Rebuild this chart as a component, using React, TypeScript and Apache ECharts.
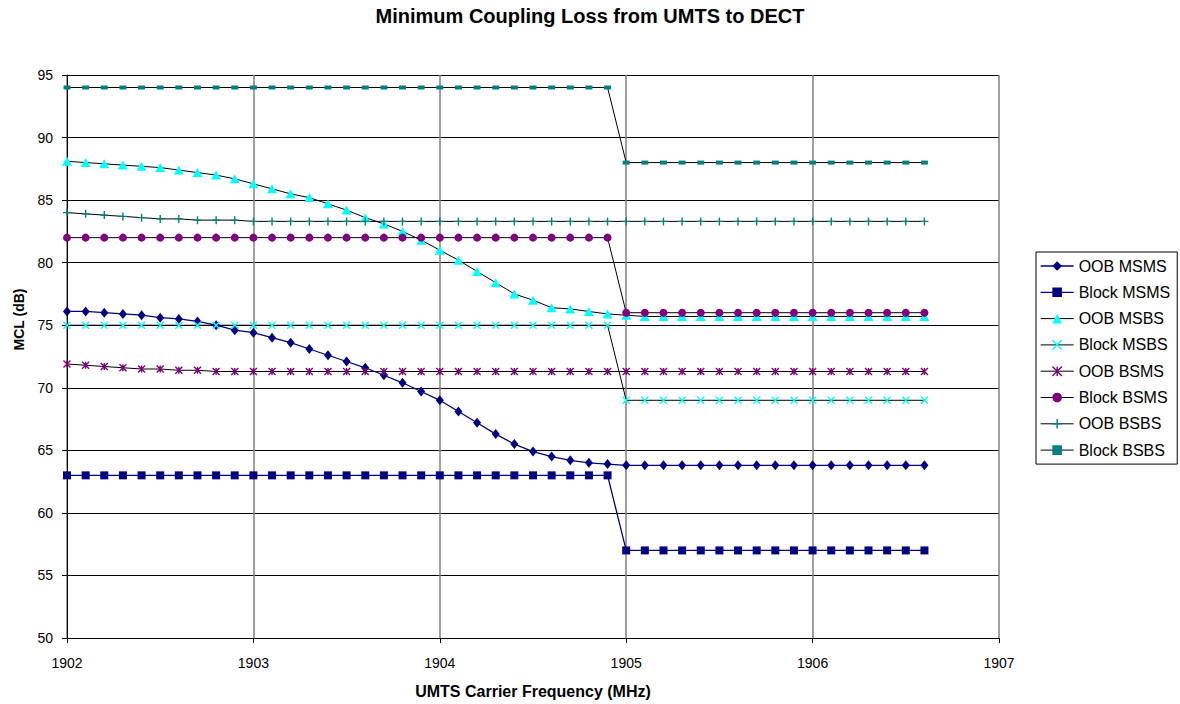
import React, { useEffect, useRef } from "react";
import * as echarts from "echarts";

const titleText = "Minimum Coupling Loss from UMTS to DECT";
const xName = "UMTS Carrier Frequency (MHz)";
const yName = "MCL (dB)";

const freqs = [
  1902.0, 1902.1, 1902.2, 1902.3, 1902.4, 1902.5, 1902.6, 1902.7, 1902.8, 1902.9,
  1903.0, 1903.1, 1903.2, 1903.3, 1903.4, 1903.5, 1903.6, 1903.7, 1903.8, 1903.9,
  1904.0, 1904.1, 1904.2, 1904.3, 1904.4, 1904.5, 1904.6, 1904.7, 1904.8, 1904.9,
  1905.0, 1905.1, 1905.2, 1905.3, 1905.4, 1905.5, 1905.6, 1905.7, 1905.8, 1905.9,
  1906.0, 1906.1, 1906.2, 1906.3, 1906.4, 1906.5, 1906.6,
];

const oobMsms = [
  76.1, 76.1, 76.0, 75.9, 75.8, 75.6, 75.5, 75.3, 75.0, 74.6,
  74.4, 74.0, 73.6, 73.1, 72.6, 72.1, 71.6, 71.0, 70.4, 69.7,
  69.0, 68.1, 67.2, 66.3, 65.5, 64.9, 64.5, 64.2, 64.0, 63.9,
  63.8, 63.8, 63.8, 63.8, 63.8, 63.8, 63.8, 63.8, 63.8, 63.8,
  63.8, 63.8, 63.8, 63.8, 63.8, 63.8, 63.8,
];

const blockMsms = [
  63, 63, 63, 63, 63, 63, 63, 63, 63, 63,
  63, 63, 63, 63, 63, 63, 63, 63, 63, 63,
  63, 63, 63, 63, 63, 63, 63, 63, 63, 63,
  57, 57, 57, 57, 57, 57, 57, 57, 57, 57,
  57, 57, 57, 57, 57, 57, 57,
];

const oobMsbs = [
  88.1, 88.0, 87.9, 87.8, 87.7, 87.6, 87.4, 87.2, 87.0, 86.7,
  86.3, 85.9, 85.5, 85.2, 84.7, 84.2, 83.6, 83.1, 82.5, 81.8,
  81.0, 80.2, 79.3, 78.4, 77.5, 77.0, 76.4, 76.3, 76.1, 75.9,
  75.8, 75.7, 75.7, 75.7, 75.7, 75.7, 75.7, 75.7, 75.7, 75.7,
  75.7, 75.7, 75.7, 75.7, 75.7, 75.7, 75.7,
];

const blockMsbs = [
  75, 75, 75, 75, 75, 75, 75, 75, 75, 75,
  75, 75, 75, 75, 75, 75, 75, 75, 75, 75,
  75, 75, 75, 75, 75, 75, 75, 75, 75, 75,
  69, 69, 69, 69, 69, 69, 69, 69, 69, 69,
  69, 69, 69, 69, 69, 69, 69,
];

const oobBsms = [
  71.9, 71.8, 71.7, 71.6, 71.5, 71.5, 71.4, 71.4, 71.3, 71.3,
  71.3, 71.3, 71.3, 71.3, 71.3, 71.3, 71.3, 71.3, 71.3, 71.3,
  71.3, 71.3, 71.3, 71.3, 71.3, 71.3, 71.3, 71.3, 71.3, 71.3,
  71.3, 71.3, 71.3, 71.3, 71.3, 71.3, 71.3, 71.3, 71.3, 71.3,
  71.3, 71.3, 71.3, 71.3, 71.3, 71.3, 71.3,
];

const blockBsms = [
  82, 82, 82, 82, 82, 82, 82, 82, 82, 82,
  82, 82, 82, 82, 82, 82, 82, 82, 82, 82,
  82, 82, 82, 82, 82, 82, 82, 82, 82, 82,
  76, 76, 76, 76, 76, 76, 76, 76, 76, 76,
  76, 76, 76, 76, 76, 76, 76,
];

const oobBsbs = [
  84.0, 83.9, 83.8, 83.7, 83.6, 83.5, 83.5, 83.4, 83.4, 83.4,
  83.3, 83.3, 83.3, 83.3, 83.3, 83.3, 83.3, 83.3, 83.3, 83.3,
  83.3, 83.3, 83.3, 83.3, 83.3, 83.3, 83.3, 83.3, 83.3, 83.3,
  83.3, 83.3, 83.3, 83.3, 83.3, 83.3, 83.3, 83.3, 83.3, 83.3,
  83.3, 83.3, 83.3, 83.3, 83.3, 83.3, 83.3,
];

const blockBsbs = [
  94, 94, 94, 94, 94, 94, 94, 94, 94, 94,
  94, 94, 94, 94, 94, 94, 94, 94, 94, 94,
  94, 94, 94, 94, 94, 94, 94, 94, 94, 94,
  88, 88, 88, 88, 88, 88, 88, 88, 88, 88,
  88, 88, 88, 88, 88, 88, 88,
];

const NAVY = "#000080";
const CYAN = "#00FFFF";
const PURPLE = "#800080";
const TEAL = "#008080";

const CROSS = "path://M0,0L10,10M10,0L0,10";
const STAR = "path://M0,0L10,10M10,0L0,10M5,0L5,10";
const PLUS = "path://M0,5L10,5M5,0L5,10";

type Def = {
  name: string;
  values: number[];
  line: string;
  lineWidth: number;
  symbol: string;
  size: number | number[];
  color: string;
  stroke?: boolean;
};

const defs: Def[] = [
  { name: "OOB MSMS", values: oobMsms, line: NAVY, lineWidth: 1.3, symbol: "diamond", size: [8, 10], color: NAVY },
  { name: "Block MSMS", values: blockMsms, line: NAVY, lineWidth: 1.3, symbol: "rect", size: 8, color: NAVY },
  { name: "OOB MSBS", values: oobMsbs, line: "#000", lineWidth: 1, symbol: "triangle", size: [10, 9], color: CYAN },
  { name: "Block MSBS", values: blockMsbs, line: "#000", lineWidth: 1, symbol: CROSS, size: 7, color: CYAN, stroke: true },
  { name: "OOB BSMS", values: oobBsms, line: "#000", lineWidth: 1, symbol: STAR, size: 7, color: PURPLE, stroke: true },
  { name: "Block BSMS", values: blockBsms, line: "#000", lineWidth: 1, symbol: "circle", size: 8, color: PURPLE },
  { name: "OOB BSBS", values: oobBsbs, line: "#000", lineWidth: 1, symbol: PLUS, size: 8, color: TEAL, stroke: true },
  { name: "Block BSBS", values: blockBsbs, line: "#000", lineWidth: 1, symbol: "rect", size: [7, 4], color: TEAL },
];

const itemStyleOf = (d: Def) =>
  d.stroke
    ? { color: d.color, borderColor: d.color, borderWidth: 1.4 }
    : { color: d.color, borderWidth: 0 };

export default function App() {
  const ref = useRef<HTMLDivElement>(null);

  useEffect(() => {
    if (!ref.current) return;
    const chart = echarts.init(ref.current, null, { renderer: "svg" });
    const font = "Arial, 'Liberation Sans', sans-serif";

    const series = defs.map((d) => ({
      name: d.name,
      type: "line",
      data: freqs.map((f, i) => [f, d.values[i]]),
      symbol: d.symbol,
      symbolSize: d.size,
      showSymbol: true,
      lineStyle: { color: d.line, width: d.lineWidth },
      itemStyle: itemStyleOf(d),
      emphasis: { disabled: true },
      z: 2,
    }));

    chart.setOption({
      animation: false,
      backgroundColor: "#fff",
      title: {
        text: titleText,
        left: "center",
        top: 1,
        textStyle: { fontFamily: font, fontSize: 20, fontWeight: "bold", color: "#000" },
      },
      grid: { left: 67, right: 181, top: 75, bottom: 66 },
      legend: {
        orient: "vertical",
        left: 1036,
        top: 252,
        padding: [6, 7, 6, 4],
        itemWidth: 33,
        itemHeight: 12,
        itemGap: 10.3,
        borderColor: "#000",
        borderWidth: 1,
        textStyle: { fontFamily: font, fontSize: 16, color: "#000" },
        data: defs.map((d) => ({
          name: d.name,
          itemStyle: itemStyleOf(d),
          lineStyle: { color: d.line, width: d.lineWidth },
        })),
      },
      xAxis: {
        type: "value",
        min: 1902,
        max: 1907,
        interval: 1,
        name: xName,
        nameLocation: "middle",
        nameGap: 45,
        nameTextStyle: { fontFamily: font, fontSize: 16, fontWeight: "bold", color: "#000" },
        axisLine: { show: true, lineStyle: { color: "#000", width: 1 } },
        axisTick: { show: true, length: 5, lineStyle: { color: "#000" } },
        axisLabel: {
          fontFamily: font,
          fontSize: 14,
          color: "#000",
          margin: 18,
          formatter: (v: number) => String(v),
        },
        splitLine: { show: true, lineStyle: { color: "#808080", width: 1.5 } },
      },
      yAxis: {
        type: "value",
        min: 50,
        max: 95,
        interval: 5,
        name: yName,
        nameLocation: "middle",
        nameGap: 41,
        nameTextStyle: {
          fontFamily: font,
          fontSize: 14,
          fontWeight: "bold",
          color: "#000",
          padding: [0, 0, 0, 74],
        },
        axisLine: { show: true, lineStyle: { color: "#000", width: 1 } },
        axisTick: { show: true, length: 5, lineStyle: { color: "#000" } },
        axisLabel: { fontFamily: font, fontSize: 14, color: "#000", margin: 14 },
        splitLine: { show: true, lineStyle: { color: "#000", width: 1 } },
      },
      series,
    });

    return () => chart.dispose();
  }, []);

  return (
    <div
      ref={ref}
      style={{ position: "absolute", left: 0, top: 0, width: 1180, height: 704, background: "#fff" }}
    />
  );
}
